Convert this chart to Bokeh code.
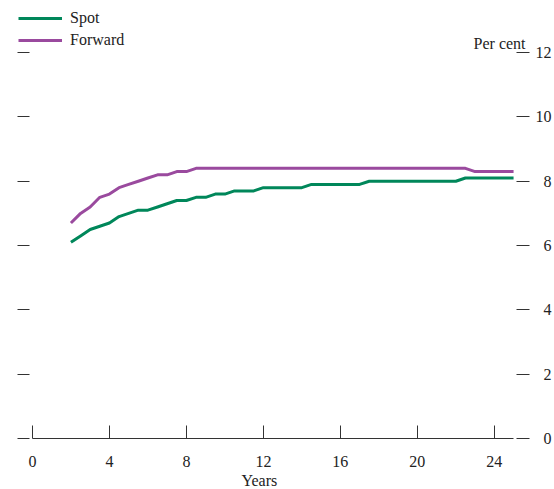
from bokeh.plotting import figure
from bokeh.models import (LinearAxis, FixedTicker, Range1d, Legend, LegendItem,
                          Label, Title, CustomJSTickFormatter)
from bokeh.embed import file_html
from bokeh.resources import INLINE

# ---- data ----
years = [2.0, 2.5, 3.0, 3.5, 4.0, 4.5, 5.0, 5.5, 6.0, 6.5, 7.0, 7.5, 8.0, 8.5,
         9.0, 9.5, 10.0, 10.5, 11.0, 11.5, 12.0, 12.5, 13.0, 13.5, 14.0, 14.5,
         15.0, 15.5, 16.0, 16.5, 17.0, 17.5, 18.0, 18.5, 19.0, 19.5, 20.0, 20.5,
         21.0, 21.5, 22.0, 22.5, 23.0, 23.5, 24.0, 24.5, 25.0]
spot = [6.1, 6.3, 6.5, 6.6, 6.7, 6.9, 7.0, 7.1, 7.1, 7.2, 7.3, 7.4, 7.4, 7.5,
        7.5, 7.6, 7.6, 7.7, 7.7, 7.7, 7.8, 7.8, 7.8, 7.8, 7.8, 7.9,
        7.9, 7.9, 7.9, 7.9, 7.9, 8.0, 8.0, 8.0, 8.0, 8.0, 8.0, 8.0,
        8.0, 8.0, 8.0, 8.1, 8.1, 8.1, 8.1, 8.1, 8.1]
forward = [6.7, 7.0, 7.2, 7.5, 7.6, 7.8, 7.9, 8.0, 8.1, 8.2, 8.2, 8.3, 8.3, 8.4,
           8.4, 8.4, 8.4, 8.4, 8.4, 8.4, 8.4, 8.4, 8.4, 8.4, 8.4, 8.4,
           8.4, 8.4, 8.4, 8.4, 8.4, 8.4, 8.4, 8.4, 8.4, 8.4, 8.4, 8.4,
           8.4, 8.4, 8.4, 8.4, 8.3, 8.3, 8.3, 8.3, 8.3]
x_ticks = [0, 4, 8, 12, 16, 20, 24]
y_ticks = [0, 2, 4, 6, 8, 10, 12]
series_names = ["Spot", "Forward"]
x_title = "Years"
y_title = "Per cent"

# ---- style ----
FONT = "Liberation Serif"
FS = "16px"
TXT = "#222222"
AX = "#333333"
GREEN = "#00875a"
PURPLE = "#9a4a9e"

p = figure(width=554, height=489, output_backend="svg", toolbar_location=None,
           x_range=Range1d(-0.776, 25.828), y_range=Range1d(0, 13.62),
           y_axis_location="right",
           min_border_left=17, min_border_right=23,
           min_border_top=0, min_border_bottom=51)
p.outline_line_color = None
p.xgrid.visible = False
p.ygrid.visible = False
p.background_fill_color = "white"
p.border_fill_color = "white"

r1 = p.line(years, spot, line_color=GREEN, line_width=3)
r2 = p.line(years, forward, line_color=PURPLE, line_width=3)

# bottom axis
xa = p.xaxis[0]
xa.bounds = (0, 25)
xa.ticker = FixedTicker(ticks=x_ticks, minor_ticks=[])
xa.major_tick_in = 13
xa.major_tick_out = 0
xa.minor_tick_line_color = None
xa.axis_line_color = AX
xa.major_tick_line_color = AX
xa.major_label_standoff = 17
xa.major_label_text_font = FONT
xa.major_label_text_font_size = FS
xa.major_label_text_color = TXT

# axis title below, left-aligned with an offset
p.add_layout(Title(text=x_title, align="left", offset=224, standoff=0,
                   text_font=FONT, text_font_size=FS, text_font_style="normal",
                   text_color=TXT), "below")

# right axis (the figure's y axis)
ya = p.yaxis[0]
ya.ticker = FixedTicker(ticks=y_ticks, minor_ticks=[])
ya.formatter = CustomJSTickFormatter(
    code="return (tick < 10 ? '\\u2007' : '') + tick;")
ya.axis_line_color = None
ya.major_tick_in = 13
ya.major_tick_out = 0
ya.minor_tick_line_color = None
ya.major_tick_line_color = AX
ya.major_label_standoff = 6
ya.major_label_text_font = FONT
ya.major_label_text_font_size = FS
ya.major_label_text_color = TXT

# left axis: ticks only
la = LinearAxis(ticker=FixedTicker(ticks=y_ticks, minor_ticks=[]),
                formatter=CustomJSTickFormatter(code="return ''"))
la.axis_line_color = None
la.major_tick_in = 12
la.major_tick_out = 0
la.minor_tick_line_color = None
la.major_tick_line_color = AX
la.major_label_standoff = 0
p.add_layout(la, "left")

# unit title
p.add_layout(Label(x=25, y=12, x_offset=12, y_offset=9, text=y_title,
                   text_align="right", text_baseline="middle",
                   text_font=FONT, text_font_size=FS, text_color=TXT))

legend = Legend(items=[LegendItem(label=series_names[0], renderers=[r1]),
                       LegendItem(label=series_names[1], renderers=[r2])],
                location=(1, 388), padding=0, margin=0, spacing=2,
                glyph_width=44, glyph_height=20, label_height=20,
                label_standoff=8, border_line_color=None,
                background_fill_alpha=0,
                label_text_font=FONT, label_text_font_size=FS,
                label_text_color=TXT)
p.add_layout(legend, "center")

open("out.html", "w").write(file_html(p, INLINE))
